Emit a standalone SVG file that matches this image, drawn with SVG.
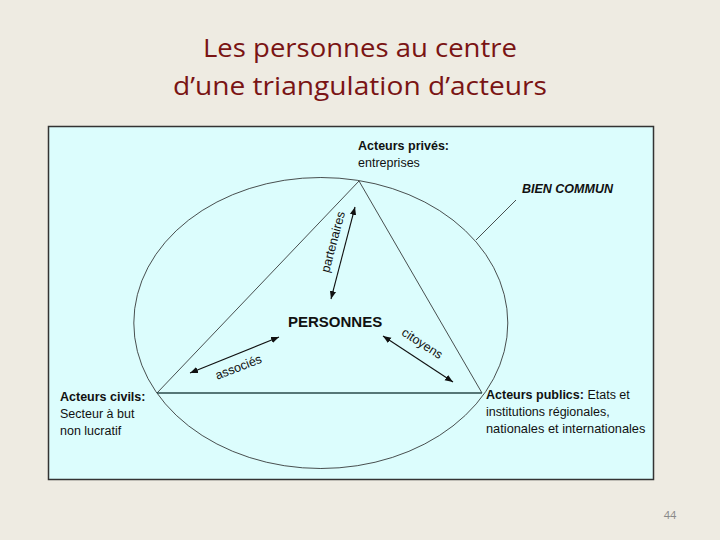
<svg xmlns="http://www.w3.org/2000/svg" width="720" height="540" viewBox="0 0 720 540">
<defs>
<style>
.t{font-family:"Liberation Sans",Arial,sans-serif;font-size:12.5px;fill:#111}
.b{font-weight:bold}
.title{font-family:"Open Sans","Noto Sans",sans-serif;font-size:26px;fill:#7a1414;text-anchor:middle}
.ln{fill:none;stroke:#222;stroke-width:0.8}
.ar{fill:none;stroke:#111;stroke-width:1.1;marker-start:url(#ah);marker-end:url(#ah)}
</style>
<marker id="ah" viewBox="0 0 10 10" refX="10" refY="5" markerWidth="8" markerHeight="8" markerUnits="userSpaceOnUse" orient="auto-start-reverse">
<path d="M0,1 L10,5 L0,9 Z" fill="#111"/>
</marker>
</defs>
<rect width="720" height="540" fill="#eeebe2"/>
<text class="title" x="360" y="57" textLength="314" lengthAdjust="spacingAndGlyphs">Les personnes au centre</text>
<text class="title" x="360" y="95" textLength="374" lengthAdjust="spacingAndGlyphs">d’une triangulation d’acteurs</text>
<rect x="48.5" y="126.5" width="605" height="353" fill="#dcfdfd" stroke="#333" stroke-width="1.5"/>
<g id="ellipse"><ellipse class="ln" cx="320.8" cy="323" rx="187" ry="145.5"/></g>
<g id="triangle"><path class="ln" d="M359,181 L157,393 M359,181 L482,393"/><line x1="157" y1="393" x2="482" y2="393" stroke="#2a4a4a" stroke-width="1.3"/></g>
<g id="connectors">
<line class="ar" x1="331" y1="299" x2="355" y2="207"/>
<line class="ar" x1="190" y1="373" x2="279" y2="337"/>
<line class="ar" x1="383" y1="336" x2="453" y2="382"/>
<line class="ln" x1="476" y1="240" x2="516" y2="200"/>
</g>
<g id="labels">
<text class="t" text-anchor="middle" transform="translate(337,243) rotate(-75)">partenaires</text>
<text class="t" text-anchor="middle" transform="translate(240,371) rotate(-21)">associés</text>
<text class="t" text-anchor="middle" transform="translate(420,347) rotate(33)">citoyens</text>
</g>
<g id="prives"><text class="t b" x="358" y="150">Acteurs privés:</text><text class="t" x="358" y="167">entreprises</text></g>
<g id="bien"><text class="t b" x="522" y="193" style="font-style:italic">BIEN COMMUN</text></g>
<g id="personnes"><text class="t b" x="288" y="327" style="font-size:15px">PERSONNES</text></g>
<g id="civils"><text class="t b" x="60" y="401">Acteurs civils:</text><text class="t" x="60" y="418">Secteur à but</text><text class="t" x="60" y="435">non lucratif</text></g>
<g id="publics"><text class="t" x="486" y="399"><tspan class="b">Acteurs publics:</tspan> Etats et</text><text class="t" x="486" y="416">institutions régionales,</text><text class="t" x="486" y="433" style="font-size:12.8px">nationales et internationales</text></g>
<text x="670" y="519" font-family="Open Sans,Noto Sans,sans-serif" font-size="11" fill="#888" text-anchor="middle">44</text>
</svg>
